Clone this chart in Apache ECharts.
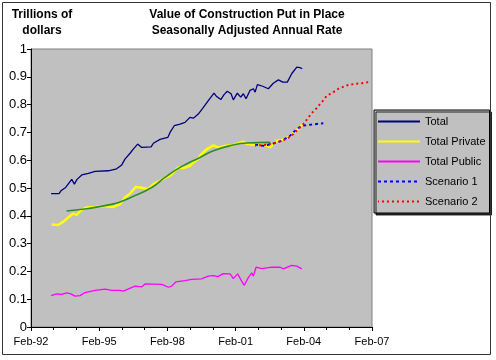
<!DOCTYPE html>
<html>
<head>
<meta charset="utf-8">
<script src="https://cdn.jsdelivr.net/npm/echarts@6/dist/echarts.min.js"></script>
<style>html,body{margin:0;padding:0;background:#fff}#c{width:496px;height:360px}</style>
</head>
<body>
<div id="c"></div>
<script>
// x values are months after Feb-92
const xTickLabels = ['Feb-92','Feb-95','Feb-98','Feb-01','Feb-04','Feb-07'];
const legendNames = ['Total','Total Private','Total Public','Scenario 1','Scenario 2'];

const totalMonths = [10.6,14.8,15.8,18.3,21.5,22.9,24.3,26.8,30.3,33.8,40.8,45.2,47.9,49.6,52.3,54.0,56.3,58.4,63.4,64.6,68.1,72.2,73.4,75.6,78.7,81.3,83.9,85.7,88.3,91.0,93.6,96.6,98.0,100.2,101.9,103.6,105.6,106.8,108.9,110.7,112.1,113.5,115.6,117.4,118.3,119.5,122.3,125.3,127.9,130.6,132.9,135.3,137.6,140.3,142.0,143.2];
const totalValues = [0.480,0.480,0.490,0.502,0.531,0.514,0.531,0.547,0.553,0.560,0.562,0.569,0.583,0.604,0.625,0.640,0.658,0.646,0.648,0.661,0.675,0.682,0.700,0.724,0.730,0.736,0.754,0.751,0.766,0.790,0.814,0.841,0.829,0.818,0.836,0.848,0.839,0.817,0.841,0.827,0.839,0.821,0.851,0.857,0.845,0.872,0.866,0.857,0.877,0.889,0.881,0.881,0.911,0.935,0.933,0.929];

const privateMonths = [10.9,14.4,17.1,19.7,22.3,24.1,26.4,29.4,33.8,38.2,43.5,47.0,49.6,52.3,55.3,57.6,59.8,61.9,64.6,68.1,71.6,73.4,75.1,77.8,80.5,83.9,85.7,88.3,89.2,92.8,96.3,98.9,102.4,106.8,112.1,113.9,117.4,121.8,126.2,129.7,132.0,135.0,138.5,141.0,142.5,143.8];
const privateValues = [0.369,0.367,0.379,0.394,0.408,0.403,0.420,0.430,0.432,0.435,0.432,0.442,0.466,0.480,0.504,0.502,0.499,0.496,0.514,0.526,0.540,0.544,0.556,0.574,0.572,0.580,0.592,0.604,0.616,0.640,0.653,0.646,0.651,0.655,0.667,0.658,0.656,0.658,0.646,0.670,0.672,0.680,0.698,0.712,0.724,0.730];

const trendMonths = [18.8,42.6,53.2,63.7,70.7,78.7,89.2,96.3,106.8,113.9,126.2];
const trendValues = [0.417,0.441,0.468,0.502,0.538,0.574,0.610,0.634,0.655,0.662,0.664];

const publicMonths = [10.6,13.6,16.2,18.8,21.1,23.2,25.9,28.5,33.8,39.1,42.6,47.0,48.7,54.9,58.4,60.2,69.0,72.5,74.3,76.4,81.3,84.8,90.1,93.6,96.3,98.6,101.5,105.1,106.8,109.1,111.2,112.6,114.4,116.5,117.4,118.8,121.8,127.1,131.5,133.2,137.6,140.3,142.9];
const publicValues = [0.113,0.119,0.117,0.123,0.119,0.111,0.113,0.124,0.132,0.136,0.132,0.132,0.129,0.147,0.144,0.155,0.153,0.143,0.147,0.162,0.167,0.171,0.173,0.183,0.185,0.181,0.192,0.191,0.174,0.191,0.165,0.150,0.174,0.195,0.183,0.215,0.210,0.215,0.215,0.209,0.222,0.219,0.209];

const scen1Months = [118.3,122.6,127.1,132.4,136.7,140.3,142.9,143.8,154.3];
const scen1Values = [0.656,0.652,0.658,0.670,0.688,0.712,0.724,0.730,0.733];

const scen2Months = [118.3,124.4,129.7,135.0,138.5,142.0,144.2,146.4,148.7,150.5,152.2,154.3,156.1,158.8,162.3,166.7,171.1,174.6,178.1];
const scen2Values = [0.652,0.656,0.664,0.676,0.694,0.718,0.733,0.754,0.773,0.785,0.799,0.815,0.832,0.841,0.857,0.869,0.875,0.877,0.881];

function zip(a, b) { return a.map((m, i) => [m, b[i]]); }

const FONT = '"Liberation Sans", Arial, sans-serif';
const chart = echarts.init(document.getElementById('c'), null, {renderer: 'canvas'});
chart.setOption({
  animation: false,
  backgroundColor: '#ffffff',
  textStyle: {fontFamily: FONT, color: '#000'},
  title: [
    {text: 'Value of Construction Put in Place\nSeasonally Adjusted Annual Rate', left: 247, top: 7, textAlign: 'center', padding: 0,
     textStyle: {fontFamily: FONT, fontSize: 12, fontWeight: 'bold', color: '#000', lineHeight: 16}},
    {text: 'Trillions of\ndollars', left: 42, top: 7, textAlign: 'center', padding: 0,
     textStyle: {fontFamily: FONT, fontSize: 12, fontWeight: 'bold', color: '#000', lineHeight: 16}}
  ],
  graphic: [{type: 'rect', shape: {x: 2.5, y: 2.5, width: 488, height: 352}, style: {fill: 'none', stroke: '#333', lineWidth: 1}, z: 100}],
  legend: {
    data: legendNames, orient: 'vertical', left: 374, top: 110,
    itemWidth: 42, itemHeight: 13, itemGap: 9, padding: [6, 4, 6, 3],
    backgroundColor: '#C0C0C0', borderColor: '#000', borderWidth: 1,
    shadowColor: 'rgba(0,0,0,0.8)', shadowOffsetX: 2, shadowOffsetY: 2, shadowBlur: 0,
    itemStyle: {opacity: 0},
    textStyle: {fontFamily: FONT, fontSize: 11, color: '#000'},
    selectedMode: false
  },
  grid: {left: 31, right: 124, top: 49, bottom: 33, show: true, backgroundColor: '#C0C0C0', borderColor: '#808080', borderWidth: 1},
  xAxis: {
    type: 'value', min: 0, max: 180, interval: 36,
    axisLine: {show: true, lineStyle: {color: '#000', width: 1}},
    axisTick: {show: true, length: 4, lineStyle: {color: '#000'}},
    minorTick: {show: true, splitNumber: 3, length: 3, lineStyle: {color: '#000'}},
    splitLine: {show: false},
    axisLabel: {fontFamily: FONT, fontSize: 11, color: '#000', margin: 9,
      formatter: v => xTickLabels[Math.round(v / 36)]}
  },
  yAxis: {
    type: 'value', min: 0, max: 1, interval: 0.1,
    axisLine: {show: true, lineStyle: {color: '#000', width: 1}},
    axisTick: {show: true, length: 4, lineStyle: {color: '#000'}},
    splitLine: {show: false},
    axisLabel: {fontFamily: FONT, fontSize: 13, color: '#000', margin: 4}
  },
  series: [
    {name: 'Total', type: 'line', symbol: 'none', data: zip(totalMonths, totalValues), lineStyle: {color: '#000080', width: 1.3}, itemStyle: {color: '#000080'}},
    {name: 'Total Private', type: 'line', symbol: 'none', data: zip(privateMonths, privateValues), lineStyle: {color: '#FFFF00', width: 2.5}, itemStyle: {color: '#FFFF00'}},
    {name: 'Trend', type: 'line', symbol: 'none', smooth: true, data: zip(trendMonths, trendValues), lineStyle: {color: '#2E8B2E', width: 1.6}, itemStyle: {color: '#2E8B2E'}},
    {name: 'Total Public', type: 'line', symbol: 'none', data: zip(publicMonths, publicValues), lineStyle: {color: '#FF00FF', width: 1.3}, itemStyle: {color: '#FF00FF'}},
    {name: 'Scenario 1', type: 'line', symbol: 'none', data: zip(scen1Months, scen1Values), lineStyle: {color: '#0000FF', width: 2, type: [3, 3]}, itemStyle: {color: '#0000FF'}},
    {name: 'Scenario 2', type: 'line', symbol: 'none', data: zip(scen2Months, scen2Values), lineStyle: {color: '#FF0000', width: 2, type: [2, 3], dashOffset: 1}, itemStyle: {color: '#FF0000'}}
  ]
});
</script>
</body>
</html>
